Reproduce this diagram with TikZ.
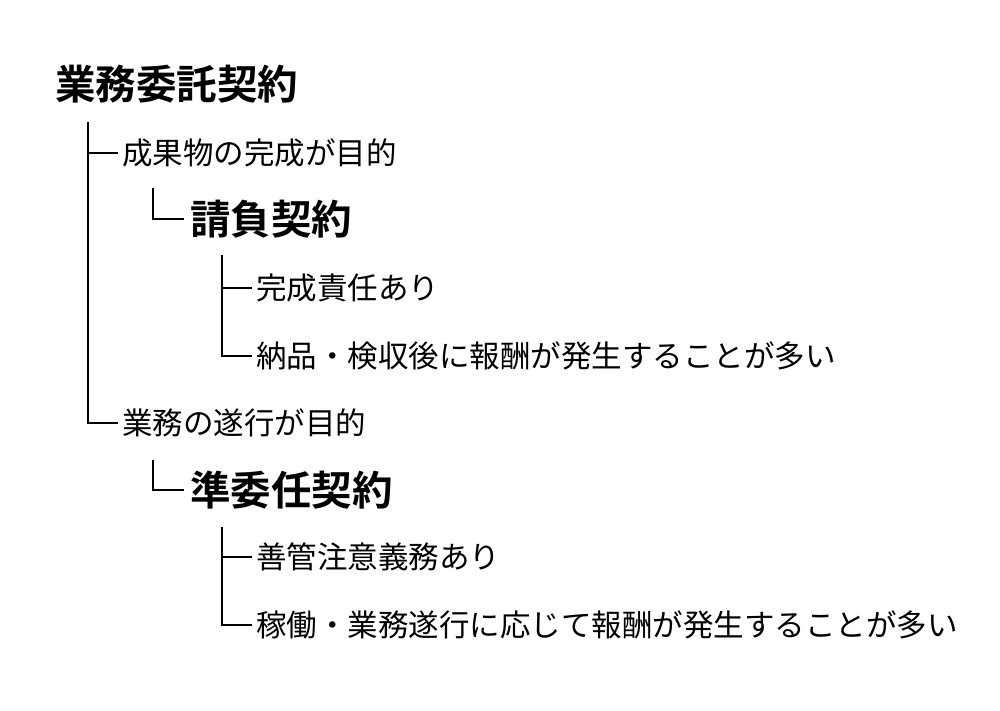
\documentclass[tikz,border=0pt]{standalone}
\usepackage{fontspec}
\newfontfamily\jp{Noto Sans CJK JP}
\newfontfamily\jpb{Noto Sans CJK JP Bold}
\begin{document}
\begin{tikzpicture}[x=1pt,y=-1pt,
  big/.style={anchor=west,inner sep=0pt,font=\jpb\fontsize{40.5}{48}\selectfont},
  item/.style={anchor=west,inner sep=0pt,font=\jp\fontsize{30.5}{36}\selectfont},
  tree/.style={line width=1.6pt,line cap=butt,line join=miter}]
\useasboundingbox[fill=white] (0,0) rectangle (1000,711);
\node[big] (root) at (55,84) {業務委託契約};
\node[item] (a) at (122,153) {成果物の完成が目的};
\node[big] (a1) at (190,219) {請負契約};
\node[item] (a11) at (256,288) {完成責任あり};
\node[item] (a12) at (256,356) {納品・検収後に報酬が発生することが多い};
\node[item] (b) at (122,423) {業務の遂行が目的};
\node[big] (b1) at (190,490) {準委任契約};
\node[item] (b11) at (256,557) {善管注意義務あり};
\node[item] (b12) at (256,625) {稼働・業務遂行に応じて報酬が発生することが多い};
% level 1
\coordinate (t1) at (88,122);
\draw[tree] (t1) |- ([xshift=-4pt]b.west);
\draw[tree] (t1 |- a.west) -- ([xshift=-4pt]a.west);
% level 2
\coordinate (t2) at (153,188);
\draw[tree] (t2) |- ([xshift=-6pt]a1.west);
\coordinate (t3) at (153,460);
\draw[tree] (t3) |- ([xshift=-6pt]b1.west);
% level 3
\coordinate (t4) at (222,255);
\draw[tree] (t4) |- ([xshift=-4pt]a12.west);
\draw[tree] (t4 |- a11.west) -- ([xshift=-4pt]a11.west);
\coordinate (t5) at (222,527);
\draw[tree] (t5) |- ([xshift=-4pt]b12.west);
\draw[tree] (t5 |- b11.west) -- ([xshift=-4pt]b11.west);
\end{tikzpicture}
\end{document}
